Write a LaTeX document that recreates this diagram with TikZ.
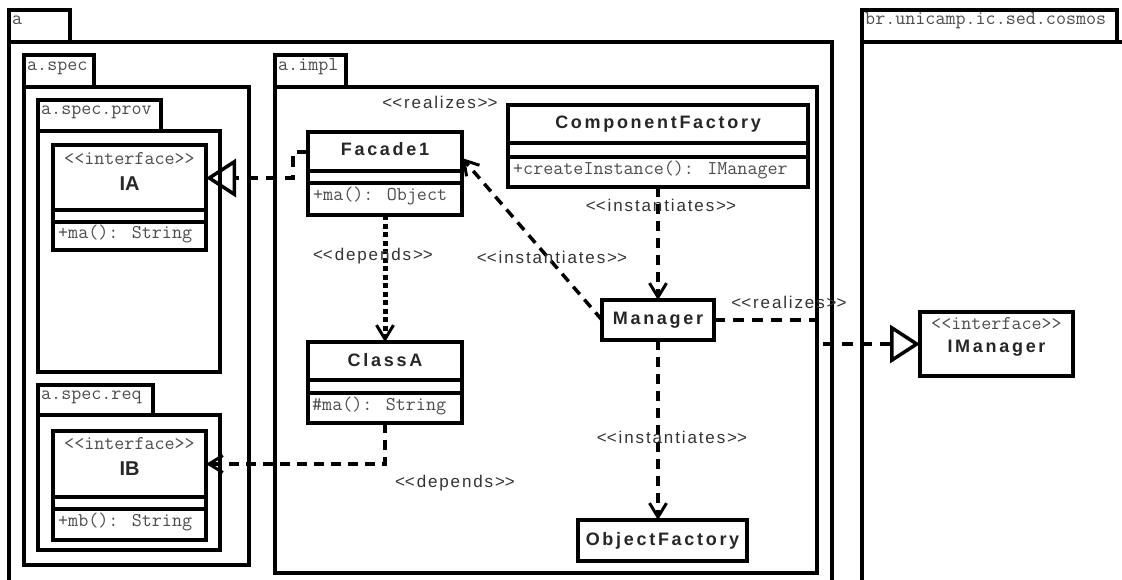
\documentclass[tikz,border=0pt]{standalone}
\usepackage{fontspec}
\setmainfont{Liberation Sans}
\newfontfamily\clsfont{Liberation Sans}[LetterSpace=15]
\newfontfamily\stfont{Liberation Sans}[LetterSpace=11]
\usetikzlibrary{arrows.meta,calc}
\newcommand\stL{<\kern0pt<}
\newcommand\stR{>\kern0pt>}
\tikzset{
  pkg/.style={draw=black, line width=4pt},
  cls/.style={draw=black, line width=4.5pt, fill=white, inner sep=0pt, outer sep=0pt, rectangle},
  cline/.style={draw=black, line width=4pt},
  clsname/.style={font={\clsfont\bfseries\fontsize{18}{20}\selectfont}, text=black!85, inner sep=0pt},
  bigname/.style={font={\bfseries\fontsize{20}{22}\selectfont}, text=black!85, inner sep=0pt},
  mono/.style={font={\ttfamily\fontsize{19.5}{21}\selectfont}, text=black!70, inner sep=0pt},
  st/.style={font={\stfont\fontsize{17}{19}\selectfont}, text=black!80, inner sep=0pt},
  dep/.style={draw=black, line width=3.5pt, dash pattern=on 10pt off 7pt,
    -{Straight Barb[length=14pt,width=17pt,line width=3pt]}},
  dotdep/.style={draw=black, line width=5pt, dash pattern=on 5pt off 3.5pt,
    -{Straight Barb[length=14pt,width=17pt,line width=3pt]}},
  realize/.style={draw=black, line width=4pt, dash pattern=on 11pt off 8pt,
    -{Triangle[open,length=30pt,width=38pt,line width=3.5pt]}},
}
\begin{document}
\begin{tikzpicture}[x=1pt,y=-1pt]
\useasboundingbox (0,0) rectangle (1122,579);
\fill[white] (0,0) rectangle (1122,579);
\clip (0,0) rectangle (1122,579);

% ---------- packages ----------
\draw[pkg] (9,10) rectangle (70,42);
\draw[pkg] (9,42) rectangle (832,600);
\node[mono, anchor=base west] (pa) at (12,24) {a};

\draw[pkg] (24,55) rectangle (94,87);
\draw[pkg] (24,87) rectangle (249,565);
\node[mono, anchor=base west] (paspec) at (27,70) {a.spec};

\draw[pkg] (38,100) rectangle (161,131);
\draw[pkg] (38,131) rectangle (220,372);
\node[mono, anchor=base west] (paprov) at (41,114) {a.spec.prov};

\draw[pkg] (38,385) rectangle (153,415);
\draw[pkg] (38,415) rectangle (220,550);
\node[mono, anchor=base west] (pareq) at (41,399) {a.spec.req};

\draw[pkg] (275,55) rectangle (346,87);
\draw[pkg] (275,87) rectangle (817,573);
\node[mono, anchor=base west] (paimpl) at (278,70) {a.impl};

\draw[pkg] (862,10) rectangle (1117,42);
\draw[pkg] (862,42) rectangle (1140,600);
\node[mono, anchor=base west] (pcos) at (865,24) {br.unicamp.ic.sed.cosmos};

% ---------- classes ----------
\node[cls, minimum width=153pt, minimum height=105pt] (IA) at (129.5,197.5) {};
\draw[cline] (IA.west |- 0,210) -- (IA.east |- 0,210);
\draw[cline] (IA.west |- 0,222) -- (IA.east |- 0,222);
\node[mono] (IAst) at (129.5,159) {\stL interface\stR};
\node[bigname] (IAn) at (129.5,184) {IA};
\node[mono, anchor=west] (IAo) at (58,234) {+ma(): String};

\node[cls, minimum width=153pt, minimum height=109pt] (IB) at (129.5,485.5) {};
\draw[cline] (IB.west |- 0,497) -- (IB.east |- 0,497);
\draw[cline] (IB.west |- 0,509) -- (IB.east |- 0,509);
\node[mono] (IBst) at (129.5,444) {\stL interface\stR};
\node[bigname] (IBn) at (129.5,469) {IB};
\node[mono, anchor=west] (IBo) at (58,522) {+mb(): String};

\node[cls, minimum width=154pt, minimum height=83pt] (Facade1) at (385,173.5) {};
\draw[cline] (Facade1.west |- 0,171) -- (Facade1.east |- 0,171);
\draw[cline] (Facade1.west |- 0,183) -- (Facade1.east |- 0,183);
\node[clsname] (Facade1n) at (385,149) {Facade1};
\node[mono, anchor=west] (Facade1o) at (313,196) {+ma(): Object};

\node[cls, minimum width=300pt, minimum height=82pt] (CF) at (658,146) {};
\draw[cline] (CF.west |- 0,143) -- (CF.east |- 0,143);
\draw[cline] (CF.west |- 0,157) -- (CF.east |- 0,157);
\node[clsname] (CFn) at (658,124) {ComponentFactory};
\node[mono, anchor=west] (CFo) at (513,170) {+createInstance(): IManager};

\node[cls, minimum width=154pt, minimum height=81pt] (ClassA) at (385,382.5) {};
\draw[cline] (ClassA.west |- 0,380) -- (ClassA.east |- 0,380);
\draw[cline] (ClassA.west |- 0,393) -- (ClassA.east |- 0,393);
\node[clsname] (ClassAn) at (385,360) {ClassA};
\node[mono, anchor=west] (ClassAo) at (312,406) {\#ma(): String};

\node[cls, minimum width=112pt, minimum height=40pt] (Manager) at (658,320) {};
\node[clsname] (Managern) at (658,320) {Manager};

\node[cls, minimum width=169pt, minimum height=41pt] (OF) at (662.5,540.5) {};
\node[clsname] (OFn) at (662.5,541) {ObjectFactory};

\node[cls, minimum width=153pt, minimum height=64pt] (IManager) at (996.5,344) {};
\node[mono] (IMst) at (996.5,324) {\stL interface\stR};
\node[clsname] (IMn) at (996.5,348) {IManager};

% ---------- connectors ----------
\coordinate (r1) at (293,152);
\coordinate (r2) at (0,178);
\draw[realize] (Facade1.west |- r1) -- (r1) |- (IA.east |- r2);

\draw[dotdep] (Facade1.south) -- (ClassA.north);

\coordinate (d1) at (0,464);
\draw[dep] (ClassA.south) |- (IB.east |- d1);

\draw[dep] (Manager.west) -- ($(Facade1.north east)+(0,26)$);
\draw[dep] (CF.south) -- (Manager.north);
\draw[dep] (Manager.south) -- (Manager.south |- OF.north);

\coordinate (k1) at (817,320);
\draw[realize] (Manager.east) -- (k1) |- (IManager.west);

% ---------- labels ----------
\node[st] (l1) at (440,102) {\stL realizes\stR};
\node[st] (l2) at (373,256) {\stL depends\stR};
\node[st] (l3) at (552,257) {\stL instantiates\stR};
\node[st] (l4) at (661,205) {\stL instantiates\stR};
\node[st] (l5) at (789,302) {\stL realizes\stR};
\node[st] (l6) at (672,437) {\stL instantiates\stR};
\node[st] (l7) at (455,483) {\stL depends\stR};
\end{tikzpicture}
\end{document}
